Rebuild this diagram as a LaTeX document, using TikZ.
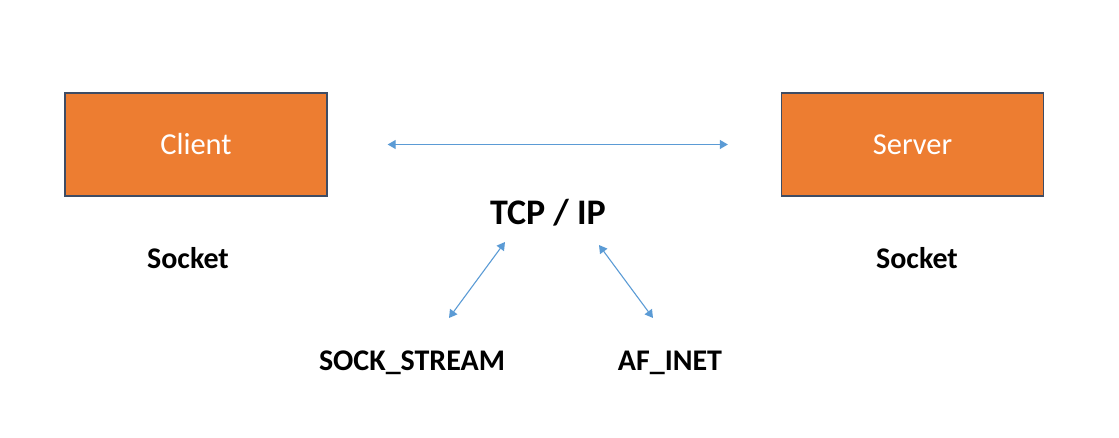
\documentclass[tikz,border=0pt]{standalone}
\usepackage{fontspec}
\setmainfont{Carlito}
\usetikzlibrary{arrows.meta, positioning}

\definecolor{boxorange}{RGB}{237,125,49}
\definecolor{boxedge}{RGB}{62,76,100}
\definecolor{linkblue}{RGB}{91,155,213}

\tikzset{
    hostbox/.style={draw=boxedge, line width=1.3pt, fill=boxorange, text=white,
        minimum width=262pt, minimum height=103pt, inner sep=0pt,
        font=\fontsize{30.5}{36}\selectfont},
    tag/.style={inner sep=0pt, anchor=base, font=\bfseries\fontsize{30}{36}\selectfont},
    bigtag/.style={inner sep=0pt, anchor=base, font=\bfseries\fontsize{36}{42}\selectfont},
    link/.style={draw=linkblue, line width=1.1pt,
        arrows={Triangle[width=9pt,length=8pt]-Triangle[width=9pt,length=8pt]}}
}

\begin{document}
\begin{tikzpicture}[x=1pt, y=-1pt]
    \path[use as bounding box] (0,0) rectangle (1119,438);

    % Nodes
    \node[hostbox] (client) at (196,144.5) {Client};
    \node[hostbox] (server) at (912.5,144.5) {Server};
    \node[tag] (client socket) at (188,269) {Socket};
    \node[tag] (server socket) at (917,269) {Socket};
    \node[bigtag] (tcp) at (548,225) {TCP / IP};
    \node[tag] (stream) at (412,370) {SOCK\_STREAM};
    \node[tag] (inet) at (670,370) {AF\_INET};

    % Arrow ends
    \coordinate (tcp left) at ([xshift=-43pt, yshift=-17pt]tcp.base);
    \coordinate (tcp right) at ([xshift=51pt, yshift=-20pt]tcp.base);
    \coordinate (stream top) at ([xshift=37pt, yshift=52pt]stream.base);
    \coordinate (inet top) at ([xshift=-17pt, yshift=52pt]inet.base);

    % Connections
    \draw[link, shorten <=60pt, shorten >=53pt] (client) -- (server);
    \draw[link] (stream top) -- (tcp left);
    \draw[link] (tcp right) -- (inet top);
\end{tikzpicture}
\end{document}
